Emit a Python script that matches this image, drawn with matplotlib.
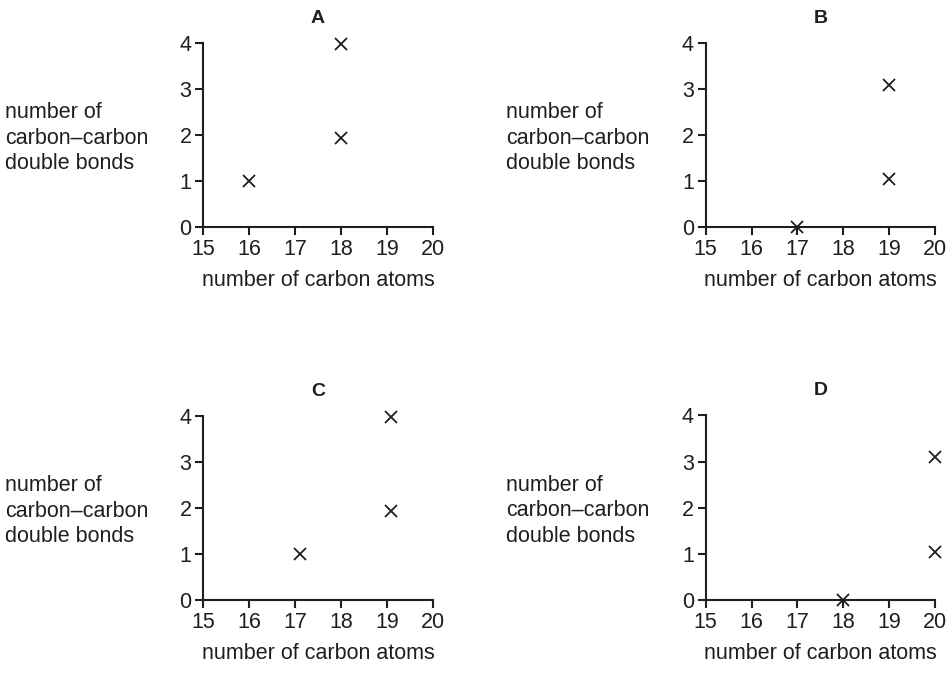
import matplotlib.pyplot as plt

plt.rcParams['font.family'] = ['Liberation Sans', 'DejaVu Sans']

# data
titles = ['A', 'B', 'C', 'D']
carbon_atoms = [
    [16, 18, 18],
    [17, 19, 19],
    [17.1, 19.1, 19.1],
    [18, 20, 20],
]
double_bonds = [
    [1, 1.95, 3.98],
    [0, 1.05, 3.1],
    [1, 1.93, 3.97],
    [0, 1.04, 3.09],
]
x_ticks = [15, 16, 17, 18, 19, 20]
y_ticks = [0, 1, 2, 3, 4]

ink = '#1f1f1f'
fs = 15.5

fig = plt.figure(figsize=(9.52, 6.75), dpi=100)

# axes boxes in figure fractions
boxes = [
    [0.2135, 0.6637, 0.2410, 0.2719],
    [0.7412, 0.6637, 0.2410, 0.2719],
    [0.2135, 0.1107, 0.2410, 0.2734],
    [0.7412, 0.1111, 0.2410, 0.2734],
]

for i in range(4):
    ax = fig.add_axes(boxes[i])
    ax.plot(carbon_atoms[i], double_bonds[i], linestyle='none', marker='x',
            markersize=8.5, markeredgewidth=1.3, color=ink, clip_on=False)
    ax.set_xlim(15, 20)
    ax.set_ylim(0, 4)
    ax.set_xticks(x_ticks)
    ax.set_yticks(y_ticks)
    for s in ['top', 'right']:
        ax.spines[s].set_visible(False)
    for s in ['left', 'bottom']:
        ax.spines[s].set_linewidth(1.5)
        ax.spines[s].set_color(ink)
    ax.tick_params(direction='out', length=5.5, width=1.5, color=ink,
                   labelsize=fs, labelcolor=ink, pad=3)
    ax.set_title(titles[i], fontsize=14, fontweight='bold', pad=14.5,
                 color=ink)
    ax.set_xlabel('number of carbon atoms', fontsize=fs, labelpad=7,
                  color=ink)
    # left-hand label sits at the figure edge, centred on the axes
    b = boxes[i]
    x_left = 0.005 if b[0] < 0.5 else 0.532
    fig.text(x_left, b[1] + b[3] * 0.5 - 3 / 675,
             'number of\ncarbon–carbon\ndouble bonds',
             fontsize=fs, ha='left', va='center', linespacing=1.27,
             color=ink)

fig.savefig('out.png', dpi=100)
